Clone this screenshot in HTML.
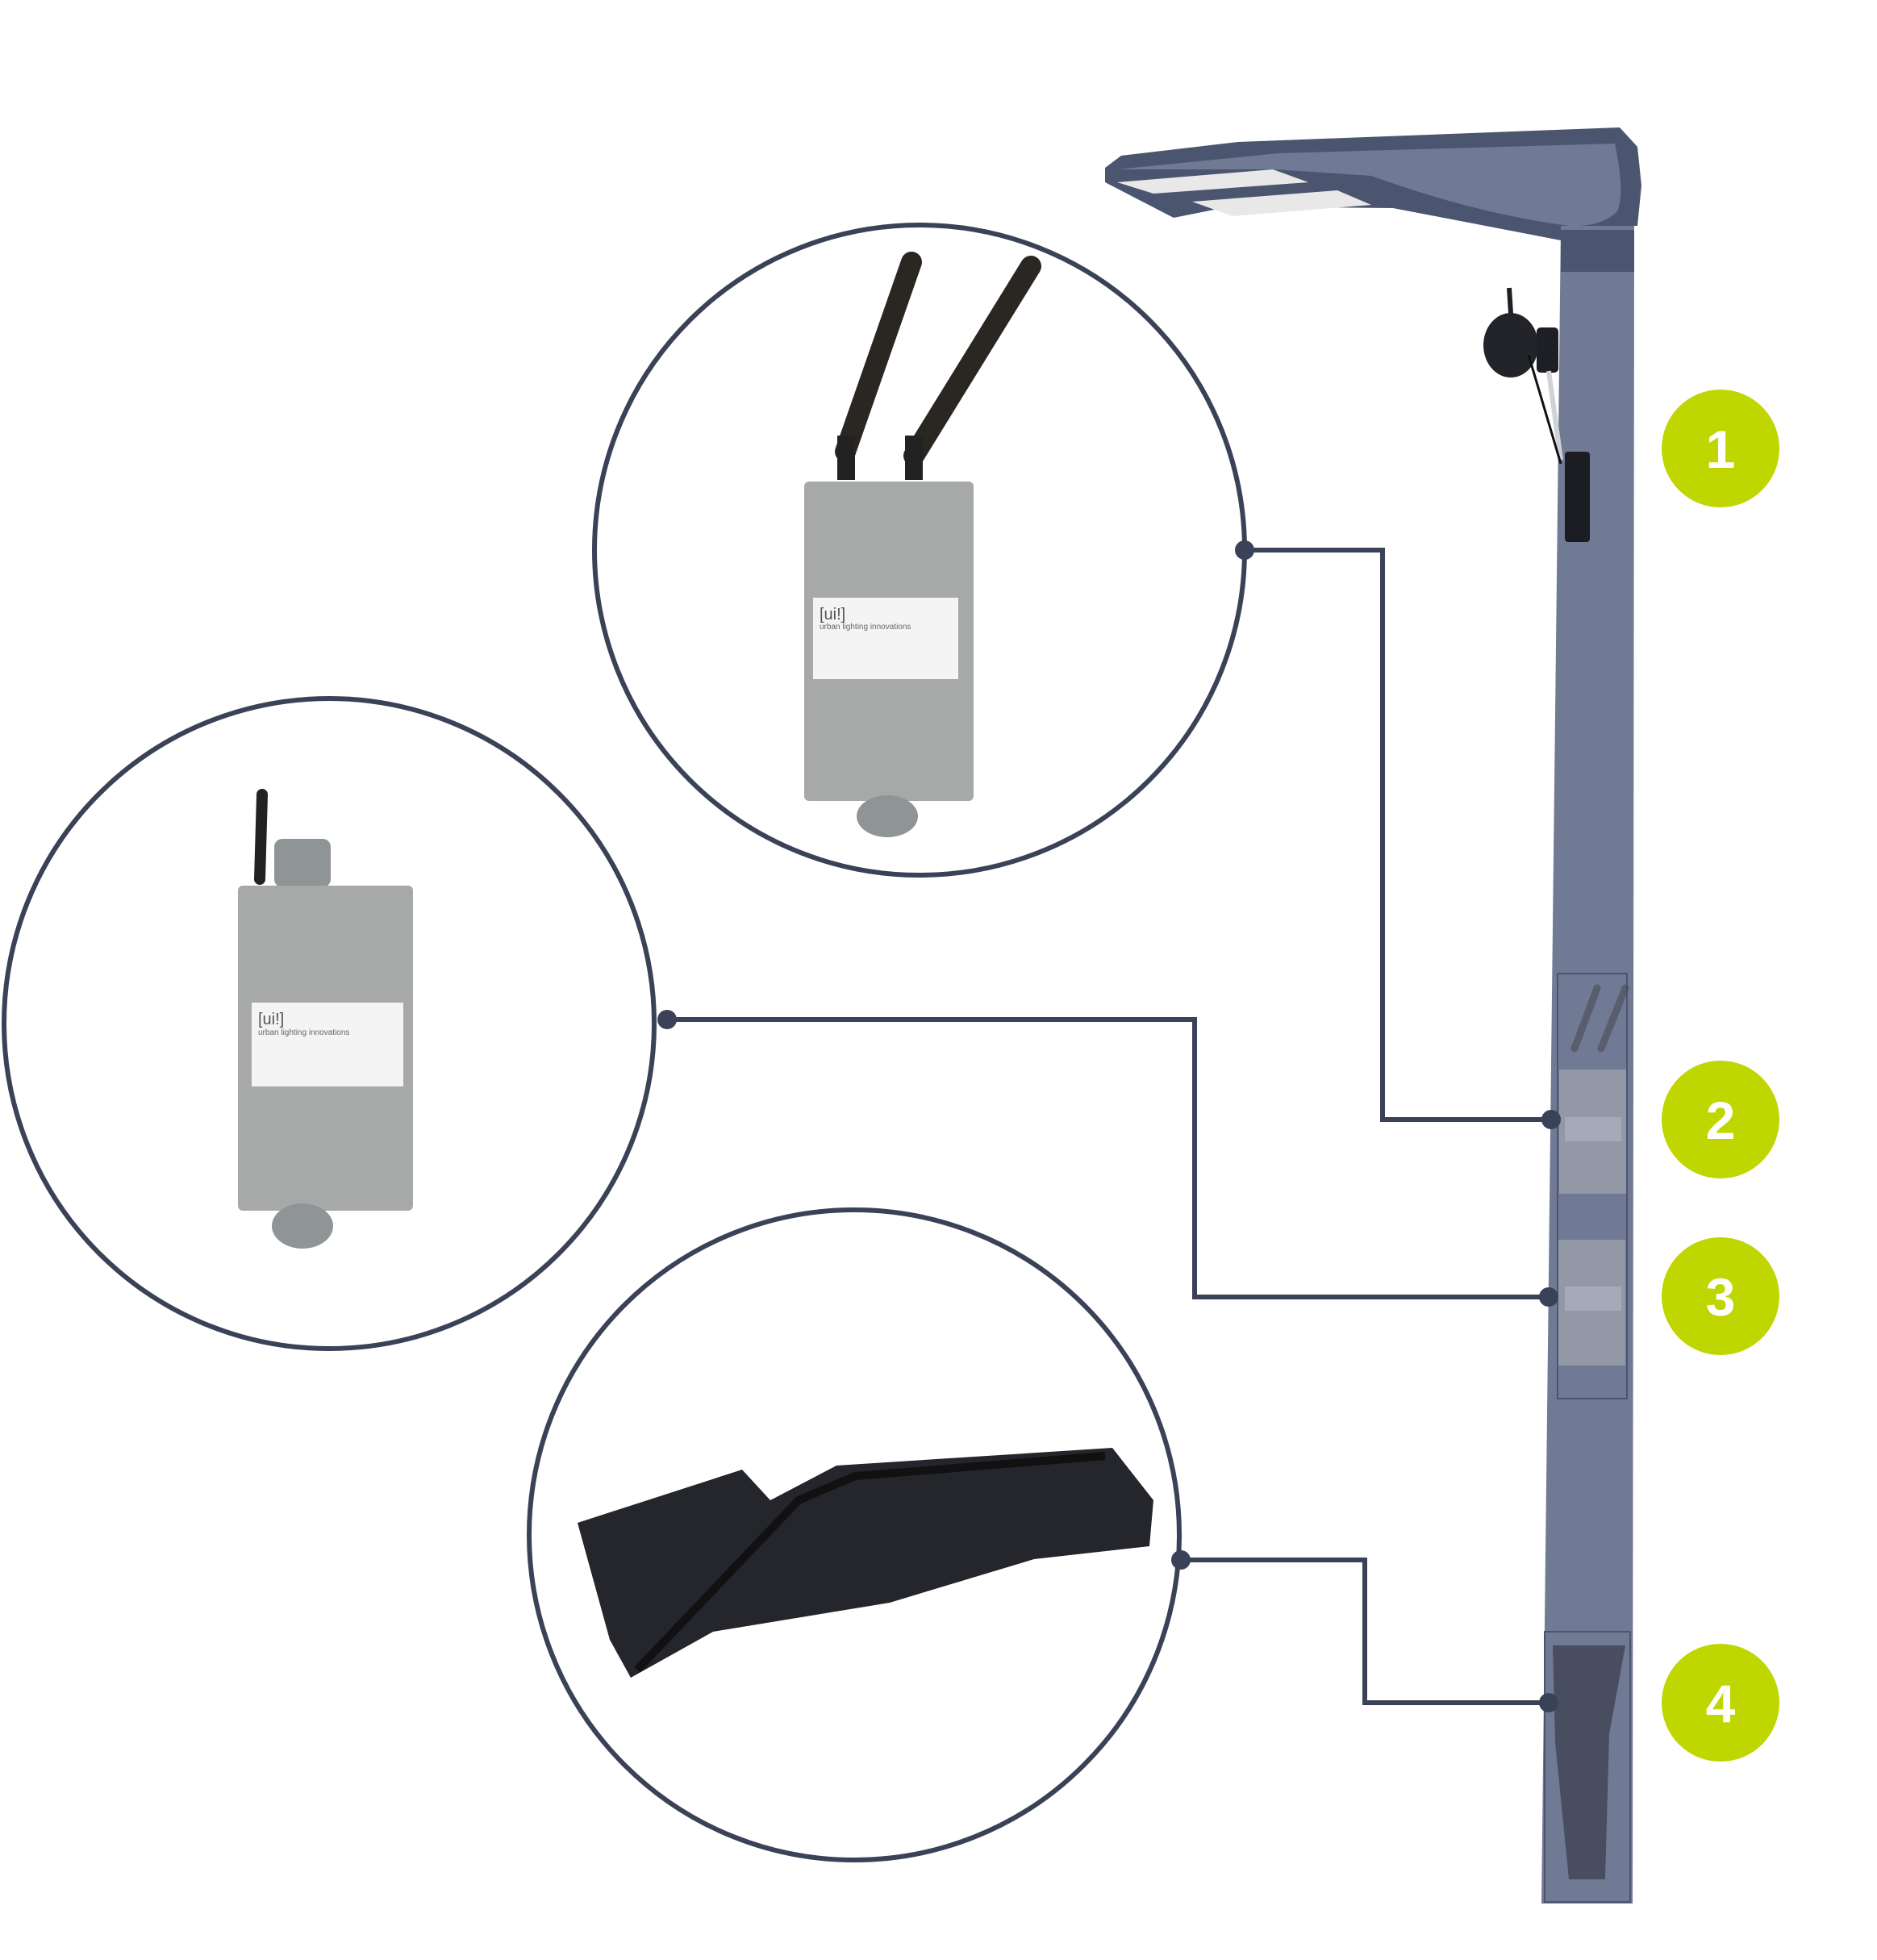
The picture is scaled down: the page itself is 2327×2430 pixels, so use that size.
<!DOCTYPE html>
<html><head><meta charset="utf-8"><style>
html,body{margin:0;padding:0;background:#fff;}
svg{display:block;}
</style></head><body>
<svg width="2327" height="2430" viewBox="0 0 2327 2430" xmlns="http://www.w3.org/2000/svg">
<!-- pole -->
<polygon points="1935,280 2026,280 2024,2360 1911,2360" fill="#717a95"/>
<polygon points="1935,285 2026,285 2026,337 1935,337" fill="#4c5570"/>
<!-- lamp head -->
<path d="M1370,208 L1390,193 L1535,176 L2008,158 L2030,182 L2035,230 L2030,280 L1935,280 L1935,298 L1727,258 L1525,256 L1455,270 L1370,226 Z" fill="#4c5570"/>
<path d="M1385,210 L1585,190 L2002,178 Q2015,240 2005,262 Q1985,282 1945,280 Q1830,265 1700,218 L1580,210 Z" fill="#717a95"/>
<polygon points="1385,226 1578,210 1622,226 1430,240" fill="#e8e8e8"/>
<polygon points="1478,250 1658,236 1700,254 1528,268" fill="#e8e8e8"/>
<!-- camera -->
<line x1="1871" y1="357" x2="1875" y2="420" stroke="#1e1f24" stroke-width="6"/>
<ellipse cx="1873" cy="428" rx="34" ry="40" fill="#22242a"/>
<rect x="1905" y="406" width="27" height="56" rx="5" fill="#1e1f24"/>
<line x1="1920" y1="460" x2="1935" y2="570" stroke="#cfd2d6" stroke-width="6"/>
<line x1="1895" y1="440" x2="1935" y2="575" stroke="#111" stroke-width="3"/>
<rect x="1940" y="560" width="31" height="112" rx="4" fill="#1c1d22"/>
<!-- numbered circles -->
<g font-family="Liberation Sans, sans-serif" font-weight="bold" font-size="66" fill="#fff" text-anchor="middle">
<circle cx="2133" cy="556" r="73" fill="#bfd600"/><text x="2133" y="580">1</text>
<circle cx="2133" cy="1388" r="73" fill="#bfd600"/><text x="2133" y="1412">2</text>
<circle cx="2133" cy="1607" r="73" fill="#bfd600"/><text x="2133" y="1631">3</text>
<circle cx="2133" cy="2111" r="73" fill="#bfd600"/><text x="2133" y="2135">4</text>
</g>
<!-- pole insets -->
<rect x="1931" y="1207" width="86" height="527" fill="none" stroke="#4c5570" stroke-width="2"/>
<g opacity="0.6">
<path d="M1952,1300 L1980,1225" stroke="#4a4d55" stroke-width="9" stroke-linecap="round"/>
<path d="M1985,1300 L2015,1225" stroke="#4a4d55" stroke-width="9" stroke-linecap="round"/>
<rect x="1933" y="1326" width="83" height="154" fill="#a9acb0"/>
<rect x="1940" y="1385" width="70" height="30" fill="#c8cbd0"/>
<rect x="1932" y="1537" width="83" height="156" fill="#a9acb0"/>
<rect x="1940" y="1595" width="70" height="30" fill="#c8cbd0"/>
</g>
<rect x="1915" y="2023" width="106" height="335" fill="none" stroke="#4c5570" stroke-width="2"/>
<path d="M1925,2040 L2015,2040 L1995,2150 L1990,2330 L1945,2330 L1928,2160 Z" fill="#3f4352" opacity="0.8"/>
<!-- big circles -->
<g fill="none" stroke="#3a4257" stroke-width="6">
<circle cx="1140" cy="682" r="403"/>
<circle cx="408" cy="1269" r="403"/>
<circle cx="1059" cy="1903" r="403"/>
<polyline points="1543,682 1714,682 1714,1388 1923,1388"/>
<polyline points="827,1264 1481,1264 1481,1608 1920,1608"/>
<polyline points="1464,1934 1692,1934 1692,2111 1920,2111"/>
</g>
<g fill="#3a4257">
<circle cx="1543" cy="682" r="12"/><circle cx="1923" cy="1388" r="12"/>
<circle cx="827" cy="1264" r="12"/><circle cx="1920" cy="1608" r="12"/>
<circle cx="1464" cy="1934" r="12"/><circle cx="1920" cy="2111" r="12"/>
</g>
<!-- router A -->
<path d="M1048,560 L1130,325" stroke="#2a2622" stroke-width="26" stroke-linecap="round"/>
<path d="M1133,565 L1278,330" stroke="#2a2622" stroke-width="26" stroke-linecap="round"/>
<rect x="1038" y="540" width="22" height="55" fill="#222"/>
<rect x="1122" y="540" width="22" height="55" fill="#222"/>
<rect x="997" y="597" width="210" height="396" rx="6" fill="#a6a9a7"/>
<ellipse cx="1100" cy="1012" rx="38" ry="26" fill="#8f9497"/>
<rect x="1008" y="741" width="180" height="101" fill="#f4f4f4"/>
<text x="1016" y="768" font-family="Liberation Sans, sans-serif" font-size="20" fill="#555">[ui!]</text>
<text x="1016" y="780" font-family="Liberation Sans, sans-serif" font-size="10" fill="#666">urban lighting innovations</text>
<!-- router B -->
<path d="M322,1090 L325,985" stroke="#222" stroke-width="14" stroke-linecap="round"/>
<rect x="340" y="1040" width="70" height="60" rx="10" fill="#8f9497"/>
<rect x="295" y="1098" width="217" height="403" rx="6" fill="#a6a9a7"/>
<ellipse cx="375" cy="1520" rx="38" ry="28" fill="#8f9497"/>
<rect x="312" y="1243" width="188" height="104" fill="#f4f4f4"/>
<text x="320" y="1270" font-family="Liberation Sans, sans-serif" font-size="20" fill="#555">[ui!]</text>
<text x="320" y="1283" font-family="Liberation Sans, sans-serif" font-size="10" fill="#666">urban lighting innovations</text>
<!-- bag -->
<polygon points="716,1888 920,1822 955,1860 1037,1817 1379,1795 1430,1860 1425,1917 1282,1933 1103,1987 884,2023 782,2080 756,2033" fill="#24262c"/>
<path d="M790,2070 L990,1860 L1060,1830 L1370,1805" stroke="#111" stroke-width="10" fill="none"/>
</svg>
</body></html>
